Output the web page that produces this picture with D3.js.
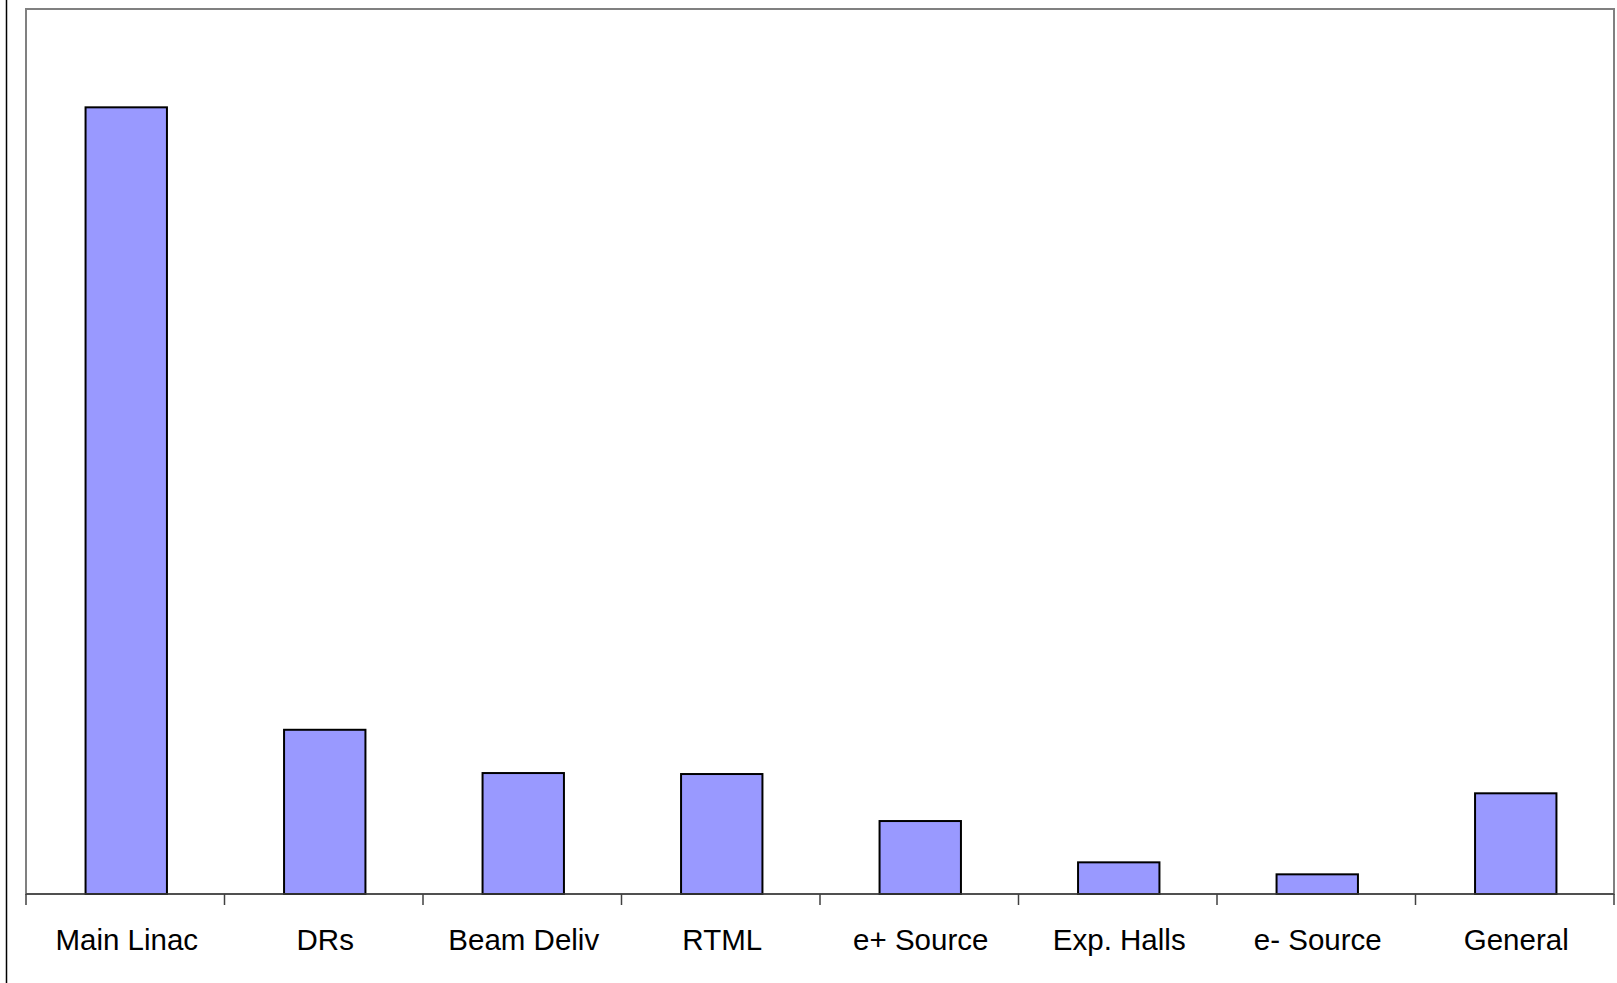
<!DOCTYPE html>
<html>
<head>
<meta charset="utf-8">
<script src="https://cdn.jsdelivr.net/npm/d3@7"></script>
<style>
  html, body { margin: 0; padding: 0; background: #fff; }
  svg { display: block; }
</style>
</head>
<body>
<svg id="chart" width="1617" height="983"></svg>
<script>
// Cost breakdown by area system
const categories = ["Main Linac", "DRs", "Beam Deliv", "RTML", "e+ Source", "Exp. Halls", "e- Source", "General"];
const values = [4000, 835, 615, 610, 371, 161, 100, 512];
const yMax = 4500;

const svg = d3.select("#chart");
const W = 1617, H = 983;
const plot = { left: 26, top: 9, right: 1614, bottom: 894 };

// outer frame edge on the left
svg.append("line")
  .attr("x1", 6.5).attr("x2", 6.5)
  .attr("y1", 0).attr("y2", H)
  .attr("stroke", "#000").attr("stroke-width", 1.5);

const x = d3.scaleBand()
  .domain(categories)
  .range([plot.left, plot.right])
  .padding(0);

const y = d3.scaleLinear()
  .domain([0, yMax])
  .range([plot.bottom, plot.top]);

// plot area frame
svg.append("rect")
  .attr("x", plot.left).attr("y", plot.top)
  .attr("width", plot.right - plot.left)
  .attr("height", plot.bottom - plot.top)
  .attr("fill", "#fff")
  .attr("stroke", "#808080").attr("stroke-width", 2);

// bars
const barFrac = 0.41;
svg.append("g")
  .selectAll("rect")
  .data(values)
  .join("rect")
  .attr("x", (d, i) => x(categories[i]) + x.bandwidth() * (1 - barFrac) / 2 + 1)
  .attr("width", x.bandwidth() * barFrac)
  .attr("y", d => y(d))
  .attr("height", d => y(0) - y(d))
  .attr("fill", "#9999FF")
  .attr("stroke", "#000")
  .attr("stroke-width", 2);

// category axis with ticks between categories
const axisG = svg.append("g");
axisG.append("line")
  .attr("x1", plot.left).attr("x2", plot.right)
  .attr("y1", plot.bottom).attr("y2", plot.bottom)
  .attr("stroke", "#404040").attr("stroke-width", 1.5);

const tickXs = categories.map(c => x(c)).concat([x(categories[categories.length - 1]) + x.bandwidth()]);
axisG.selectAll("line.tick")
  .data(tickXs)
  .join("line")
  .attr("class", "tick")
  .attr("x1", d => d).attr("x2", d => d)
  .attr("y1", plot.bottom).attr("y2", plot.bottom + 11)
  .attr("stroke", "#404040").attr("stroke-width", 1.5);

axisG.selectAll("text")
  .data(categories)
  .join("text")
  .attr("x", d => x(d) + x.bandwidth() / 2 + 1.5)
  .attr("y", 950)
  .attr("text-anchor", "middle")
  .attr("font-family", "Liberation Sans, Arial, sans-serif")
  .attr("font-size", 29.5)
  .attr("fill", "#000")
  .text(d => d);
</script>
</body>
</html>
